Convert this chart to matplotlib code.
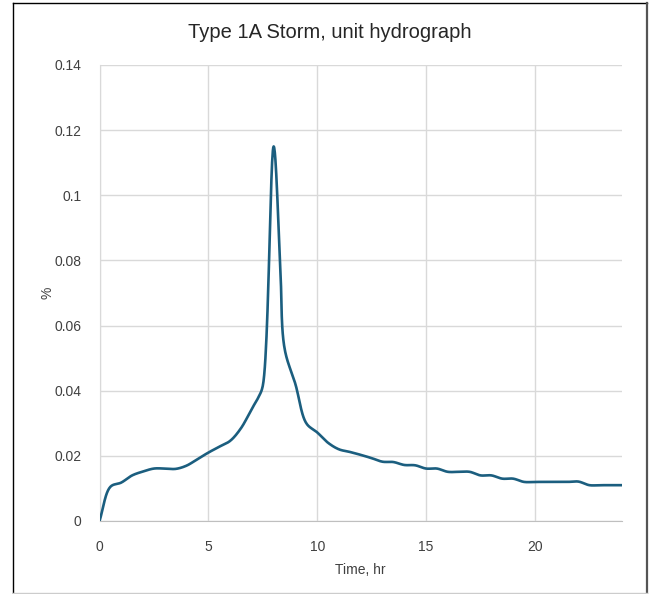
import numpy as np
import matplotlib
matplotlib.use("Agg")
import matplotlib.pyplot as plt
from matplotlib.lines import Line2D

# values
time_hr = [0, 0.5, 1.0, 1.5, 2.0, 2.5, 3.0, 3.5, 4.0, 4.5, 5.0, 5.5, 6.0, 6.5,
           7.0, 7.3, 7.5, 8.0, 8.3, 8.5, 9.0, 9.5, 10.0, 10.5, 11.0,
           11.5, 12.0, 12.5, 13.0, 13.5, 14.0, 14.5, 15.0, 15.5, 16.0, 16.5,
           17.0, 17.5, 18.0, 18.5, 19.0, 19.5, 20.0, 20.5, 21.0, 21.5, 22.0,
           22.5, 23.0, 23.5, 24.0]
pct = [0.0, 0.0105, 0.0118, 0.0140, 0.0152, 0.0161, 0.0161, 0.0160, 0.0170,
       0.0190, 0.0210, 0.0228, 0.0246, 0.0285, 0.0345, 0.0380, 0.0415,
       0.1150, 0.0790, 0.0530, 0.0420, 0.0300, 0.0272, 0.0240,
       0.0220, 0.0212, 0.0203, 0.0193, 0.0182, 0.0181, 0.0172, 0.0171,
       0.0161, 0.0161, 0.0151, 0.0151, 0.0151, 0.0140, 0.0140, 0.0130,
       0.0130, 0.0120, 0.0120, 0.0120, 0.0120, 0.0120, 0.0121, 0.0110,
       0.0110, 0.0110, 0.0110]

x_ticks = [0, 5, 10, 15, 20]
y_ticks = [0, 0.02, 0.04, 0.06, 0.08, 0.1, 0.12, 0.14]
y_tick_labels = ['0', '0.02', '0.04', '0.06', '0.08', '0.1', '0.12', '0.14']

line_color = '#1b5e7f'
grid_color = '#d9d9d9'
font = ['Liberation Sans', 'DejaVu Sans']


def smooth(x, y, scale_x, scale_y, n=24):
    # centripetal Catmull-Rom through the points (spreadsheet-style smoothed line)
    P = np.column_stack([np.asarray(x) / scale_x, np.asarray(y) / scale_y])
    P = np.vstack([2 * P[0] - P[1], P, 2 * P[-1] - P[-2]])
    out = []
    for i in range(1, len(P) - 2):
        p0, p1, p2, p3 = P[i - 1], P[i], P[i + 1], P[i + 2]
        t0 = 0.0
        t1 = t0 + np.linalg.norm(p1 - p0) ** 0.5
        t2 = t1 + np.linalg.norm(p2 - p1) ** 0.5
        t3 = t2 + np.linalg.norm(p3 - p2) ** 0.5
        t = np.linspace(t1, t2, n, endpoint=False)[:, None]
        a1 = (t1 - t) / (t1 - t0) * p0 + (t - t0) / (t1 - t0) * p1
        a2 = (t2 - t) / (t2 - t1) * p1 + (t - t1) / (t2 - t1) * p2
        a3 = (t3 - t) / (t3 - t2) * p2 + (t - t2) / (t3 - t2) * p3
        b1 = (t2 - t) / (t2 - t0) * a1 + (t - t0) / (t2 - t0) * a2
        b2 = (t3 - t) / (t3 - t1) * a2 + (t - t1) / (t3 - t1) * a3
        out.append((t2 - t) / (t2 - t1) * b1 + (t - t1) / (t2 - t1) * b2)
    out.append(P[-2][None, :])
    out = np.vstack(out)
    return out[:, 0] * scale_x, out[:, 1] * scale_y


fig = plt.figure(figsize=(6.59, 5.94), dpi=100)
ax = fig.add_axes([99.5 / 659, 1 - 521 / 594, (622 - 99.5) / 659, (521 - 65) / 594])

sx, sy = smooth(time_hr, pct, 24 / 522.0, 0.14 / 456.0)
ax.plot(sx, sy, color=line_color, lw=1.9, solid_capstyle='round', zorder=3)

ax.set_xlim(0, 24)
ax.set_ylim(0, 0.14)
ax.set_xticks(x_ticks)
ax.set_yticks(y_ticks)
ax.set_yticklabels(y_tick_labels)
ax.grid(True, color=grid_color, lw=1.0)
ax.set_axisbelow(True)
for side in ['top', 'right']:
    ax.spines[side].set_visible(False)
ax.spines['left'].set_color(grid_color)
ax.spines['bottom'].set_color('#bfbfbf')
ax.tick_params(length=0, labelsize=10, labelcolor='#404040')
ax.tick_params(axis='y', pad=13)
ax.tick_params(axis='x', pad=14)
for lab in ax.get_xticklabels() + ax.get_yticklabels():
    lab.set_family(font)

ax.set_xlabel('Time, hr', fontsize=10, family=font, color='#404040', labelpad=6)
ax.set_ylabel('%', fontsize=10, family=font, color='#404040', labelpad=0)
fig.text(330 / 659, 1 - 32 / 594, 'Type 1A Storm, unit hydrograph',
         ha='center', va='center', fontsize=14.5, color='#262626',
         family=['Liberation Sans Narrow', 'Liberation Sans', 'DejaVu Sans'])

# frame around the chart area
W, H = 659.0, 594.0
fig.add_artist(Line2D([13 / W, 13 / W], [1 - 3 / H, 1 - 593 / H], color='black', lw=1))
fig.add_artist(Line2D([13 / W, 647 / W], [1 - 3 / H, 1 - 3 / H], color='black', lw=1))
fig.add_artist(Line2D([647 / W, 647 / W], [1 - 3 / H, 1 - 593 / H], color='#555555', lw=1.6))
fig.add_artist(Line2D([13 / W, 647 / W], [1 - 593 / H, 1 - 593 / H], color='#cccccc', lw=1))

fig.savefig('out.png', dpi=100)
